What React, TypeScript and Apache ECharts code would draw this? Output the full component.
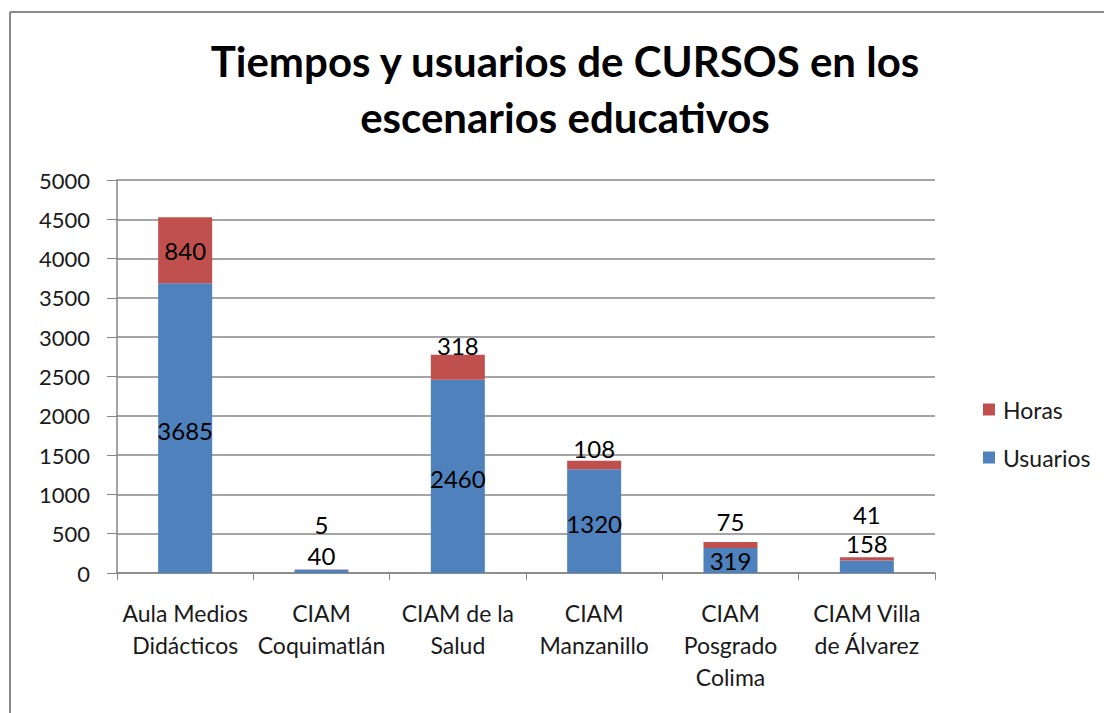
import React, { useEffect, useRef } from "react";
import * as echarts from "echarts";

const categories = [
  "Aula Medios Didácticos",
  "CIAM Coquimatlán",
  "CIAM de la Salud",
  "CIAM Manzanillo",
  "CIAM Posgrado Colima",
  "CIAM Villa de Álvarez",
];
const xTickLabels = [
  "Aula Medios\nDidácticos",
  "CIAM\nCoquimatlán",
  "CIAM de la\nSalud",
  "CIAM\nManzanillo",
  "CIAM\nPosgrado\nColima",
  "CIAM Villa\nde Álvarez",
];
const usuarios = [3685, 40, 2460, 1320, 319, 158];
const horas = [840, 5, 318, 108, 75, 41];
const yTicks = [0, 500, 1000, 1500, 2000, 2500, 3000, 3500, 4000, 4500, 5000];

// label vertical nudges (styling only)
const usuariosLabelDy = [2, -16, 2, 2, 0, -23];
const horasLabelDy = [0, -45, -22, -17, -23, -44];

const FONT = "Lato, 'Noto Sans', sans-serif";

export default function App() {
  const ref = useRef<HTMLDivElement>(null);
  useEffect(() => {
    if (!ref.current) return;
    const chart = echarts.init(ref.current, undefined, { renderer: "svg" });
    const labelStyle = {
      show: true,
      position: "inside",
      color: "#000",
      fontFamily: FONT,
      fontSize: 24,
      lineHeight: 22,
    };
    chart.setOption({
      animation: false,
      backgroundColor: "#fff",
      title: {
        text: "Tiempos y usuarios de CURSOS en los\nescenarios educativos",
        left: 560,
        top: 28,
        textAlign: "center",
        textStyle: {
          fontFamily: FONT,
          fontSize: 42,
          fontWeight: "bold",
          color: "#000",
          lineHeight: 56,
        },
      },
      legend: {
        orient: "vertical",
        left: 978,
        top: 393,
        itemWidth: 12,
        itemHeight: 12,
        itemGap: 25,
        icon: "rect",
        data: ["Horas", "Usuarios"],
        textStyle: {
          fontFamily: FONT,
          fontSize: 23,
          color: "#1a1a1a",
          padding: [0, 0, 0, 3],
        },
      },
      grid: { left: 117, right: 169, top: 180, bottom: 140, containLabel: false },
      xAxis: {
        type: "category",
        data: categories,
        axisLine: { lineStyle: { color: "#868686", width: 1.5 } },
        axisTick: { show: true, length: 7, lineStyle: { color: "#868686" } },
        axisLabel: {
          interval: 0,
          margin: 24,
          fontFamily: FONT,
          fontSize: 23,
          color: "#1a1a1a",
          lineHeight: 32,
          formatter: (_v: string, i: number) => xTickLabels[i],
        },
      },
      yAxis: {
        type: "value",
        min: yTicks[0],
        max: yTicks[yTicks.length - 1],
        interval: 500,
        axisLine: { show: true, lineStyle: { color: "#868686", width: 1.5 } },
        axisTick: { show: true, length: 10, lineStyle: { color: "#868686" } },
        splitLine: { lineStyle: { color: "#868686", width: 1.5 } },
        axisLabel: {
          margin: 27,
          fontFamily: FONT,
          fontSize: 22,
          color: "#1a1a1a",
          formatter: (v: number) => String(v),
        },
      },
      series: [
        {
          name: "Usuarios",
          type: "bar",
          stack: "total",
          barWidth: 54,
          itemStyle: { color: "#4F81BD" },
          data: usuarios.map((v, i) => ({
            value: v,
            label: { ...labelStyle, offset: [0, usuariosLabelDy[i]] },
          })),
        },
        {
          name: "Horas",
          type: "bar",
          stack: "total",
          barWidth: 54,
          itemStyle: { color: "#C0504D" },
          data: horas.map((v, i) => ({
            value: v,
            label: { ...labelStyle, offset: [0, horasLabelDy[i]] },
          })),
        },
      ],
      graphic: [
        {
          type: "line",
          shape: { x1: 10, y1: 12, x2: 1104, y2: 12 },
          style: { stroke: "#8a8a8a", lineWidth: 2 },
        },
        {
          type: "line",
          shape: { x1: 10, y1: 12, x2: 10, y2: 713 },
          style: { stroke: "#8a8a8a", lineWidth: 2 },
        },
      ],
    });
    return () => chart.dispose();
  }, []);
  return (
    <div
      ref={ref}
      style={{ position: "absolute", left: 0, top: 0, width: 1104, height: 713 }}
    />
  );
}
